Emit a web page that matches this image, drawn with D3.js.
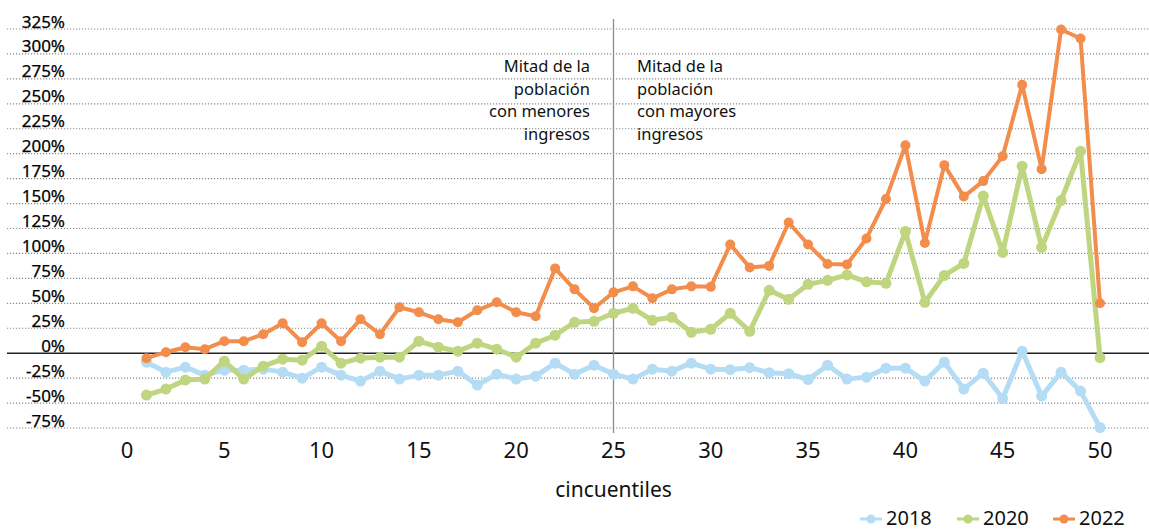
<!DOCTYPE html>
<html lang="es">
<head>
<meta charset="UTF-8">
<title>Cincuentiles</title>
<script src="https://d3js.org/d3.v7.min.js"></script>
<style>
  body { margin: 0; background: #fff; }
  svg { display: block; font-family: "Noto Sans", "Open Sans", sans-serif; }
</style>
</head>
<body>
<div id="chart"></div>
<script>
// cincuentiles 1..50
const cincuentiles = d3.range(1, 51);
const xTicks = [0, 5, 10, 15, 20, 25, 30, 35, 40, 45, 50];
const yTicks = d3.range(-75, 326, 25);

// variación porcentual por cincuentil
const v2018 = [-9, -19, -14, -22, -17, -17, -16, -19, -25, -14, -22, -28, -18, -26, -22, -22, -18, -32, -21, -26,
  -23, -10, -21, -12, -21, -26, -16, -18, -10, -16, -16.5, -14.5, -19.5, -20.5, -26.5, -12, -26, -24, -15, -15,
  -28, -9, -36, -20, -45.5, 2, -43, -19, -38, -74.5];
const v2020 = [-42, -36, -27, -26, -8, -26, -13, -6, -7, 7, -10, -5, -4, -4, 12, 6, 2, 10, 4, -4,
  10, 18, 31, 32, 40, 45, 33, 36, 21, 24, 40, 22, 63, 54, 69, 73, 78.5, 71.5, 70, 122,
  51, 78, 90, 157.5, 101, 187.5, 106, 153, 202.5, -4.5];
const v2022 = [-5, 1, 6, 4, 12, 12, 19, 30, 11, 30, 12, 34, 19, 46, 41, 34, 31, 43, 51, 41,
  37, 85, 64, 45, 61, 67, 55, 64, 67, 66.5, 109, 86, 87.5, 131, 109, 89.5, 89, 115, 154.5, 208.5,
  110.5, 188.5, 157, 172.5, 197.5, 269, 184.5, 324.5, 315.5, 50];

const seriesNames = ["2018", "2020", "2022"];
const seriesValues = [v2018, v2020, v2022];
const colors = ["#b5dcf5", "#bfd57f", "#f28d4c"];

const width = 1149, height = 531;

const svg = d3.select("#chart").append("svg")
  .attr("width", width)
  .attr("height", height);

const x = d3.scaleLinear().domain([0, 50]).range([127, 1100]);
const y = d3.scaleLinear().domain([-75, 325]).range([428, 29]);

// dotted gridlines
svg.append("g")
  .selectAll("line")
  .data(yTicks.filter(d => d !== 0))
  .enter().append("line")
  .attr("x1", 7).attr("x2", width)
  .attr("y1", d => y(d)).attr("y2", d => y(d))
  .attr("stroke", "#8a8a8a")
  .attr("stroke-width", 1.2)
  .attr("stroke-dasharray", "1.2 1.8");

// y labels sit above their line
svg.append("g")
  .selectAll("text")
  .data(yTicks)
  .enter().append("text")
  .attr("x", 65)
  .attr("y", d => y(d) - 1.5)
  .attr("text-anchor", "end")
  .attr("font-size", 17)
  .attr("fill", "#000")
  .attr("stroke", "#000")
  .attr("stroke-width", 0.25)
  .text(d => d + "%");

// zero line
svg.append("line")
  .attr("x1", 7).attr("x2", width)
  .attr("y1", y(0)).attr("y2", y(0))
  .attr("stroke", "#222")
  .attr("stroke-width", 1.5);

// middle divider
svg.append("line")
  .attr("x1", x(25)).attr("x2", x(25))
  .attr("y1", 19).attr("y2", 433)
  .attr("stroke", "#8c8c8c")
  .attr("stroke-width", 1.3);

// annotations
const leftNote = ["Mitad de la", "población", "con menores", "ingresos"];
const rightNote = ["Mitad de la", "población", "con mayores", "ingresos"];
const noteY = [72, 94.5, 117, 139.5];
svg.append("g").selectAll("text").data(leftNote).enter().append("text")
  .attr("x", 590).attr("y", (d, i) => noteY[i])
  .attr("text-anchor", "end").attr("font-size", 16.5).attr("fill", "#111")
  .text(d => d);
svg.append("g").selectAll("text").data(rightNote).enter().append("text")
  .attr("x", 637).attr("y", (d, i) => noteY[i])
  .attr("text-anchor", "start").attr("font-size", 16.5).attr("fill", "#111")
  .text(d => d);

// x tick labels
svg.append("g").selectAll("text").data(xTicks).enter().append("text")
  .attr("x", d => x(d)).attr("y", 458)
  .attr("text-anchor", "middle").attr("font-size", 22).attr("fill", "#111")
  .text(d => d);

svg.append("text")
  .attr("x", x(25)).attr("y", 497)
  .attr("text-anchor", "middle").attr("font-size", 21).attr("fill", "#111")
  .text("cincuentiles");

// series
const line = d3.line()
  .x((d, i) => x(cincuentiles[i]))
  .y(d => y(d));

seriesValues.forEach((vals, s) => {
  const g = svg.append("g");
  g.append("path")
    .datum(vals)
    .attr("fill", "none")
    .attr("stroke", colors[s])
    .attr("stroke-width", s === 2 ? 4 : 5)
    .attr("stroke-linejoin", "round")
    .attr("d", line);
  g.selectAll("circle")
    .data(vals)
    .enter().append("circle")
    .attr("cx", (d, i) => x(cincuentiles[i]))
    .attr("cy", d => y(d))
    .attr("r", s === 2 ? 5 : 5.5)
    .attr("fill", colors[s]);
});

// legend
const legendX = [860, 957, 1053];
const legend = svg.append("g");
seriesNames.forEach((name, s) => {
  legend.append("line")
    .attr("x1", legendX[s]).attr("x2", legendX[s] + 22)
    .attr("y1", 519).attr("y2", 519)
    .attr("stroke", colors[s]).attr("stroke-width", 3);
  legend.append("circle")
    .attr("cx", legendX[s] + 11).attr("cy", 519).attr("r", 4.5)
    .attr("fill", colors[s]);
  legend.append("text")
    .attr("x", legendX[s] + 26).attr("y", 525)
    .attr("font-size", 20).attr("fill", "#111")
    .text(name);
});
</script>
</body>
</html>
